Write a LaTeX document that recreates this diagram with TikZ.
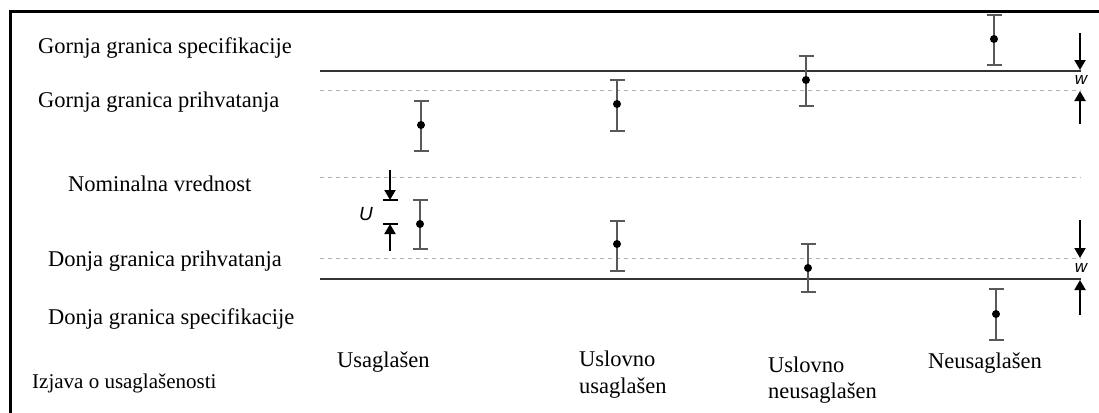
\documentclass[tikz,border=0pt]{standalone}
\usepackage{fontspec}
\setmainfont{Liberation Serif}
\newfontfamily\lsans{Liberation Sans}
\usetikzlibrary{arrows.meta}
\tikzset{
  lbl/.style={anchor=base west, inner sep=0pt, font=\fontsize{22.5}{27}\selectfont},
  slbl/.style={anchor=base west, inner sep=0pt, font=\fontsize{21}{25}\selectfont},
  speclim/.style={line width=2pt, draw=black!80},
  acclim/.style={line width=1pt, draw=black!30, dash pattern=on 4pt off 4pt},
  ebarline/.style={line width=2pt, draw=black!65},
  dotc/.style={circle, fill=black, inner sep=0pt, minimum size=8pt},
  warrow/.style={line width=2pt, -{Triangle[length=10pt,width=11pt]}},
  sym/.style={inner sep=0pt, font=\lsans\itshape\fontsize{19}{20}\selectfont},
}
\newcommand{\errbar}[5]{% name, x, top, bottom, centre
  \draw[ebarline] (#2,#3) -- (#2,#4);
  \draw[ebarline] (#2-7.5,#3) -- (#2+7.5,#3);
  \draw[ebarline] (#2-7.5,#4) -- (#2+7.5,#4);
  \node[dotc] (#1) at (#2,#5) {};
}
\begin{document}
\begin{tikzpicture}[x=1pt,y=-1pt]
\useasboundingbox (0,0) rectangle (1099,412);
% frame
\draw[line width=2.5pt] (10.5,413) -- (10.5,11.5) -- (1100,11.5);
% limit lines
\coordinate (usl0) at (320,70.5);  \coordinate (usl1) at (1081,70.5);
\coordinate (ual0) at (320,90.5);  \coordinate (ual1) at (1081,90.5);
\coordinate (nom0) at (320,177);   \coordinate (nom1) at (1081,177);
\coordinate (lal0) at (320,258.5); \coordinate (lal1) at (1081,258.5);
\coordinate (lsl0) at (320,279);   \coordinate (lsl1) at (1081,279);
\draw[acclim] (ual0) -- (ual1);
\draw[acclim] (nom0) -- (nom1);
\draw[acclim] (lal0) -- (lal1);
\draw[speclim] (usl0) -- (usl1);
\draw[speclim] (lsl0) -- (lsl1);
% labels
\node[lbl] (t1) at (38,53) {Gornja granica specifikacije};
\node[lbl] (t2) at (38,107) {Gornja granica prihvatanja};
\node[lbl] (t3) at (68,191) {Nominalna vrednost};
\node[lbl] (t4) at (48,266) {Donja granica prihvatanja};
\node[lbl] (t5) at (48,324) {Donja granica specifikacije};
\node[slbl] (t6) at (32,388) {Izjava o usaglašenosti};
\node[lbl] (c1) at (337,367) {Usaglašen};
\node[lbl] (c2) at (579,366) {Uslovno};
\node[lbl] (c2b) at (579,393) {usaglašen};
\node[lbl] (c3) at (768,372) {Uslovno};
\node[lbl] (c3b) at (768,398) {neusaglašen};
\node[lbl] (c4) at (928,368) {Neusaglašen};
% error bars
\errbar{e1a}{421}{101}{151}{125}
\errbar{e1b}{420}{200}{249}{224}
\errbar{e2a}{617}{80}{131}{104}
\errbar{e2b}{617}{221}{271}{244}
\errbar{e3a}{806}{56}{106}{80}
\errbar{e3b}{808}{244}{292}{268}
\errbar{e4a}{994}{15}{65}{39}
\errbar{e4b}{996}{289}{340}{314}
% U arrows
\coordinate (ut) at (390,200);
\coordinate (ub) at (390,224);
\coordinate (us) at (390,170);
\coordinate (ue) at (390,251);
\draw[line width=2pt] (383,200) -- (398,200);
\draw[line width=2pt] (383,224) -- (398,224);
\draw[warrow] (us) -- (ut);
\draw[warrow] (ue) -- (ub);
\node[sym] (U) at (366,214) {U};
% w arrows (upper)
\coordinate (wa0) at (1080,33);  \coordinate (wa1) at (1080,70);
\coordinate (wb0) at (1080,124); \coordinate (wb1) at (1080,91);
\draw[warrow] (wa0) -- (wa1);
\draw[warrow] (wb0) -- (wb1);
\node[sym, font=\lsans\itshape\fontsize{17}{18}\selectfont] (w1) at (1081,80) {w};
% w arrows (lower)
\coordinate (wc0) at (1080,220); \coordinate (wc1) at (1080,258);
\coordinate (wd0) at (1080,315); \coordinate (wd1) at (1080,280);
\draw[warrow] (wc0) -- (wc1);
\draw[warrow] (wd0) -- (wd1);
\node[sym, font=\lsans\itshape\fontsize{17}{18}\selectfont] (w2) at (1081,268) {w};
\end{tikzpicture}
\end{document}
